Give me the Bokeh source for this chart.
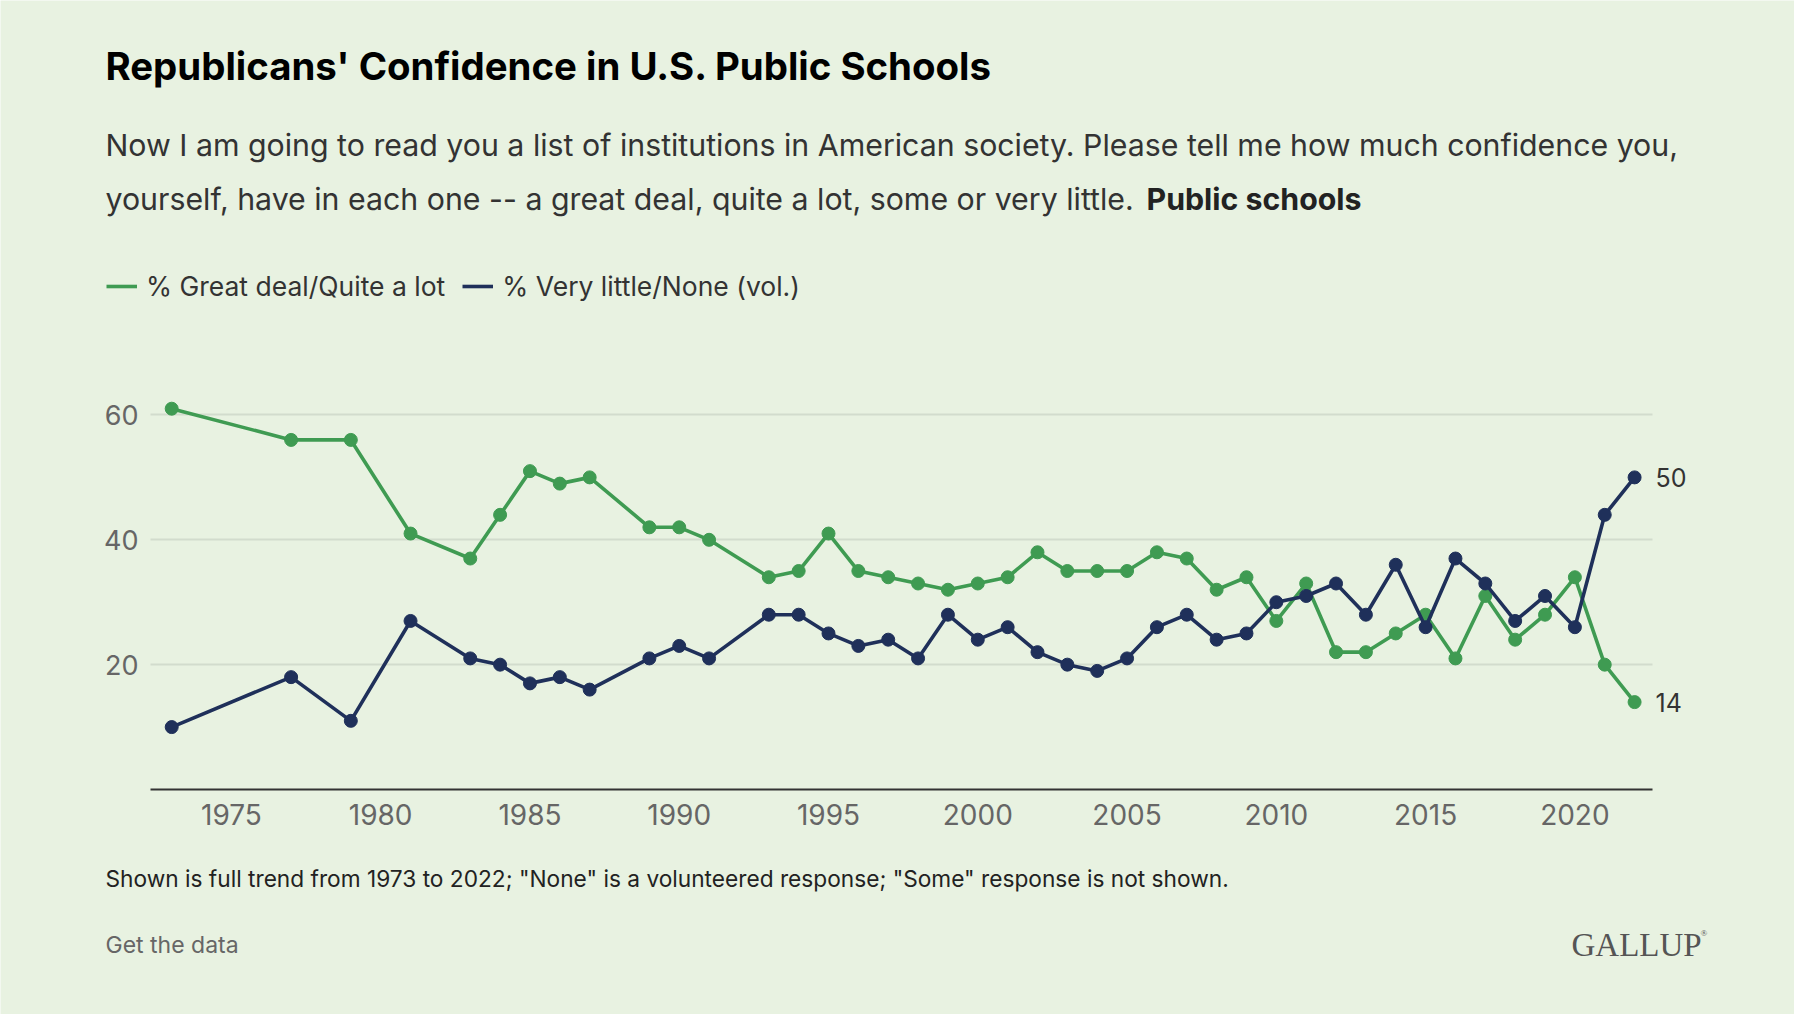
from bokeh.plotting import figure
from bokeh.models import (ColumnDataSource, Range1d, Label, Legend, LegendItem,
                          FixedTicker, LinearAxis)
from bokeh.embed import file_html
from bokeh.resources import INLINE

years = [1973, 1977, 1979, 1981, 1983, 1984, 1985, 1986, 1987, 1989, 1990, 1991,
         1993, 1994, 1995, 1996, 1997, 1998, 1999, 2000, 2001, 2002, 2003, 2004,
         2005, 2006, 2007, 2008, 2009, 2010, 2011, 2012, 2013, 2014, 2015, 2016,
         2017, 2018, 2019, 2020, 2021, 2022]
great_deal = [61, 56, 56, 41, 37, 44, 51, 49, 50, 42, 42, 40,
              34, 35, 41, 35, 34, 33, 32, 33, 34, 38, 35, 35,
              35, 38, 37, 32, 34, 27, 33, 22, 22, 25, 28, 21,
              31, 24, 28, 34, 20, 14]
very_little = [10, 18, 11, 27, 21, 20, 17, 18, 16, 21, 23, 21,
               28, 28, 25, 23, 24, 21, 28, 24, 26, 22, 20, 19,
               21, 26, 28, 24, 25, 30, 31, 33, 28, 36, 26, 37,
               33, 27, 31, 26, 44, 50]
series_names = ["% Great deal/Quite a lot", "% Very little/None (vol.)"]
x_ticks = [1975, 1980, 1985, 1990, 1995, 2000, 2005, 2010, 2015, 2020]
y_ticks = [20, 40, 60]

title_text = "Republicans' Confidence in U.S. Public Schools"
sub1 = "Now I am going to read you a list of institutions in American society. Please tell me how much confidence you,"
sub2 = "yourself, have in each one -- a great deal, quite a lot, some or very little."
sub2b = "Public schools"
foot = "Shown is full trend from 1973 to 2022; \"None\" is a volunteered response; \"Some\" response is not shown."

GREEN = "#3f9b52"
NAVY = "#1f305a"
BG = "#e8f2e1"
FONT = "Inter"

W, H = 1794, 1014
FL, FR, FB = 150, 1652, 789          # chart area edges in page pixels
X_LO, X_HI = 1972.29, 2022.60        # chart x extent (years)
PPU = 6.2425                         # pixels per percentage point
KX = (FR - FL) / (X_HI - X_LO)       # pixels per year

p = figure(width=W, height=H, output_backend="svg", toolbar_location=None,
           x_range=Range1d(X_LO - FL / KX, X_HI + (W - FR) / KX),
           y_range=Range1d(-(H - FB) / PPU, FB / PPU),
           min_border=0)
p.background_fill_color = BG
p.border_fill_color = BG
p.outline_line_color = None

# axes drawn at fixed places inside the full-page frame
p.xaxis.fixed_location = 0
p.xaxis.bounds = (X_LO, X_HI)
p.xaxis.ticker = FixedTicker(ticks=x_ticks)
p.yaxis.fixed_location = X_LO
p.yaxis.ticker = FixedTicker(ticks=y_ticks)
for ax in (p.xaxis, p.yaxis):
    ax.major_tick_line_color = None
    ax.minor_tick_line_color = None
    ax.major_tick_out = 0
    ax.major_tick_in = 0
    ax.major_label_text_font = FONT
    ax.major_label_text_font_size = "28px"
    ax.major_label_text_color = "#666666"
p.xaxis.axis_line_color = "#333333"
p.xaxis.axis_line_width = 2
p.xaxis.major_label_standoff = 14
p.yaxis.axis_line_color = None
p.yaxis.major_label_standoff = 12
p.yaxis.major_label_text_font_size = "27px"
p.xgrid.grid_line_color = None

grid = p.ygrid[0]
if "cross_bounds" in grid.properties():
    grid.cross_bounds = (X_LO, X_HI)
    grid.grid_line_color = "#d2dccd"
    grid.grid_line_width = 2
else:
    grid.grid_line_color = None
    p.segment(x0=[X_LO] * len(y_ticks), x1=[X_HI] * len(y_ticks),
              y0=y_ticks, y1=y_ticks, line_color="#d2dccd", line_width=2)

src = ColumnDataSource(dict(year=years, g=great_deal, n=very_little))
lg = p.line("year", "g", source=src, line_color=GREEN, line_width=3.6)
p.scatter("year", "g", source=src, size=13, fill_color=GREEN, line_color=GREEN)
ln = p.line("year", "n", source=src, line_color=NAVY, line_width=3.6)
p.scatter("year", "n", source=src, size=13, fill_color=NAVY, line_color=NAVY)

# last values beside the chart on the right
end_axis = LinearAxis(ticker=FixedTicker(ticks=[great_deal[-1], very_little[-1]]),
                      fixed_location=X_HI,
                      axis_line_color=None, major_tick_line_color=None,
                      minor_tick_line_color=None, major_tick_out=0, major_tick_in=0,
                      major_label_standoff=3,
                      major_label_text_font=FONT, major_label_text_font_size="25px",
                      major_label_text_color="#333333")
p.add_layout(end_axis, "right")

legend = Legend(items=[LegendItem(label=series_names[0], renderers=[lg]),
                       LegendItem(label=series_names[1], renderers=[ln])],
                orientation="horizontal", location=(106, H - 302),
                glyph_width=31, glyph_height=28, label_height=28,
                label_standoff=9, spacing=17, padding=0, margin=0,
                border_line_color=None, background_fill_alpha=0,
                label_text_font=FONT, label_text_font_size="26.5px",
                label_text_color="#333333")
p.add_layout(legend)


def put(x, y, text, size, color="#333333", style="normal", font=FONT,
        baseline="middle"):
    p.add_layout(Label(x=x, y=H - y, x_units="screen", y_units="screen",
                       text=text, text_font=font, text_font_size=size,
                       text_font_style=style, text_color=color,
                       text_baseline=baseline, text_align="left"))


put(105, 65, title_text, "38.4px", "#000000", "bold")
put(105, 144, sub1, "30.3px")
put(105, 198, sub2, "30.3px")
put(1146, 198, sub2b, "30.3px", "#222222", "bold")
put(105, 878, foot, "22.7px", "#222222")
put(105, 944, "Get the data", "23px", "#666666")
put(1571, 944, "GALLUP", "33px", "#555555", font="Liberation Serif")
put(1700, 932, "\u00ae", "9px", "#555555", font="Liberation Serif")

open("out.html", "w").write(file_html(p, INLINE))
